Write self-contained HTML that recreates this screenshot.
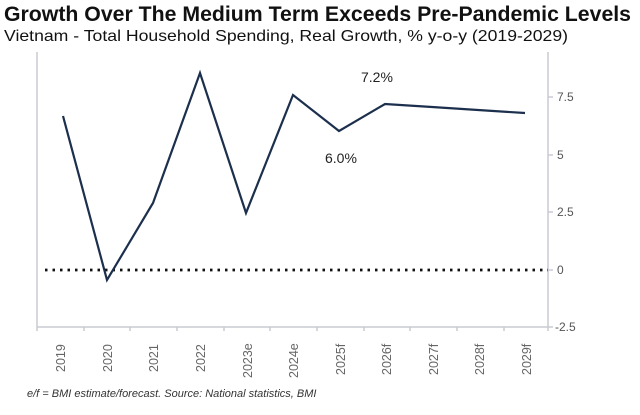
<!DOCTYPE html>
<html><head><meta charset="utf-8"><style>
body{margin:0;background:#fff;width:640px;height:410px;overflow:hidden;font-family:"Liberation Sans",sans-serif}
</style></head><body>
<svg width="640" height="410" xmlns="http://www.w3.org/2000/svg" font-family="Liberation Sans, sans-serif">
<text x="4" y="21" font-size="21" font-weight="bold" fill="#111" textLength="627" lengthAdjust="spacingAndGlyphs">Growth Over The Medium Term Exceeds Pre-Pandemic Levels</text>
<text x="4" y="41" font-size="16" fill="#111" textLength="564" lengthAdjust="spacingAndGlyphs">Vietnam - Total Household Spending, Real Growth, % y-o-y (2019-2029)</text>
<g stroke="#c8ccd2" stroke-width="1.5" fill="none">
<line x1="37" y1="52" x2="37" y2="327"/>
<line x1="548" y1="52" x2="548" y2="327"/>
<line x1="37" y1="327" x2="548" y2="327"/>
<path d="M37 327v4M84 327v4M130 327v4M177 327v4M224 327v4M270 327v4M317 327v4M364 327v4M410 327v4M457 327v4M504 327v4M548 327v4"/>
<path d="M548 97h5M548 155h5M548 212h5M548 270h5M548 327h5"/>
</g>
<g font-size="12" fill="#555">
<text x="557" y="101">7.5</text><text x="557" y="159">5</text><text x="557" y="216">2.5</text><text x="557" y="274">0</text><text x="555" y="331">-2.5</text>
</g>
<line x1="45" y1="270" x2="548" y2="270" stroke="#111" stroke-width="2.8" stroke-dasharray="2.5 5"/>
<polyline fill="none" stroke="#1c2f4d" stroke-width="2.2" stroke-linejoin="miter" points="63,116 107,280 153,203 200,73 246,213 293,95 339,131 385,104 432,107 478,110 525,113"/>
<text x="361" y="82" font-size="14" fill="#222">7.2%</text>
<text x="325" y="163" font-size="14" fill="#222">6.0%</text>
<g font-size="12.5" fill="#666">
<text transform="translate(65,372) rotate(-90)">2019</text>
<text transform="translate(112,372) rotate(-90)">2020</text>
<text transform="translate(158,372) rotate(-90)">2021</text>
<text transform="translate(205,372) rotate(-90)">2022</text>
<text transform="translate(252,378) rotate(-90)">2023e</text>
<text transform="translate(298,378) rotate(-90)">2024e</text>
<text transform="translate(345,375) rotate(-90)">2025f</text>
<text transform="translate(391,375) rotate(-90)">2026f</text>
<text transform="translate(438,375) rotate(-90)">2027f</text>
<text transform="translate(484,375) rotate(-90)">2028f</text>
<text transform="translate(531,375) rotate(-90)">2029f</text>
</g>
<text x="27" y="397" font-size="11" font-style="italic" fill="#333">e/f = BMI estimate/forecast. Source: National statistics, BMI</text>
</svg>
</body></html>
